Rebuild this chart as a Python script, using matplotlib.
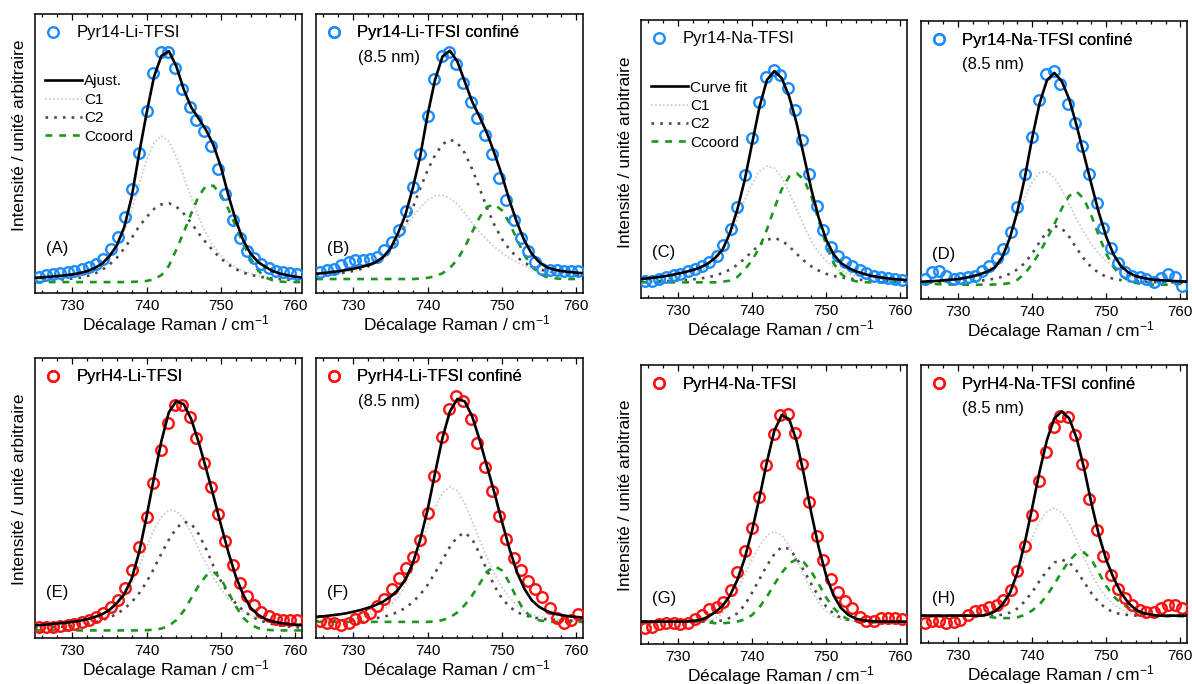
#--- DATA ----------------------------------------------------------------------------------------------
import matplotlib.pyplot as plt
from matplotlib.ticker import MultipleLocator
import numpy as np

plt.rcParams['font.family'] = ['Liberation Sans', 'DejaVu Sans']
plt.rcParams['mathtext.default'] = 'regular'

# Raman shift of the measured points (cm-1)
shift = [725.5, 726.5, 727.4, 728.4, 729.4, 730.3, 731.3, 732.3, 733.2, 734.2, 735.2, 736.1, 737.1,
         738.0, 739.0, 740.0, 740.9, 741.9, 742.9, 743.8, 744.8, 745.8, 746.7, 747.7, 748.7, 749.6,
         750.6, 751.6, 752.5, 753.5, 754.5, 755.4, 756.4, 757.4, 758.3, 759.3, 760.2]
# Raman shift of the fitted curves (cm-1), 1 cm-1 step
fit_shift = np.arange(725, 762)

# (A) Pyr14-Li-TFSI
a_data = [2.4, 2.9, 3.3, 3.9, 4.3, 4.7, 5.5, 6.5, 7.9, 10.1, 14.4, 19.4, 28.1, 40.0, 55.8, 73.7, 89.9, 99.3,
          99.3, 92.1, 83.0, 75.3, 69.8, 65.0, 58.6, 48.6, 38.1, 26.9, 19.0, 13.4, 10.4, 7.9, 6.0, 4.9, 4.3, 3.9, 3.6]
a_fit = [1.9, 2.0, 2.3, 2.6, 2.9, 3.3, 3.9, 4.7, 6.0, 7.9, 11.1, 15.8, 23.7, 36.7, 55.4, 72.7, 88.5, 97.5,
         99.5, 93.0, 83.0, 75.3, 70.5, 65.5, 59.0, 49.6, 37.4, 26.6, 18.0, 12.2, 8.6, 6.5, 4.7, 3.6, 2.9, 2.3, 2.0]
a_c1 = [1.0, 1.2, 1.4, 1.7, 2.0, 2.4, 3.0, 3.8, 5.0, 7.0, 10.0, 15.0, 22.0, 31.0, 42.0, 52.5, 60.0, 63.0,
        60.5, 54.0, 45.5, 36.5, 28.0, 21.0, 15.5, 11.5, 8.5, 6.3, 4.8, 3.7, 2.9, 2.3, 1.9, 1.6, 1.3, 1.1, 1.0]
a_c2 = [0.6, 0.7, 0.8, 1.0, 1.2, 1.5, 1.9, 2.6, 3.6, 5.2, 7.5, 10.5, 14.5, 19.0, 24.0, 28.0, 31.5, 33.5,
        34.0, 32.5, 29.5, 25.5, 21.0, 17.0, 13.3, 10.2, 7.6, 5.6, 4.1, 3.1, 2.4, 1.9, 1.5, 1.2, 1.0, 0.8, 0.7]
a_cc = [0.0, 0.0, 0.0, 0.0, 0.0, 0.0, 0.0, 0.0, 0.0, 0.0, 0.0, 0.0, 0.0, 0.1, 0.2, 0.5, 1.2, 3.0,
        7.0, 14.0, 21.5, 29.5, 37.0, 41.5, 41.5, 37.5, 31.5, 24.0, 16.5, 10.0, 5.0, 2.0, 0.7, 0.2, 0.0, 0.0, 0.0]

# (B) Pyr14-Li-TFSI confiné
b_data = [3.1, 3.8, 4.5, 6.0, 7.4, 8.2, 8.5, 8.9, 9.6, 12.5, 16.2, 21.6, 29.7, 40.2, 54.5, 71.1, 87.2, 97.4,
          99.3, 93.9, 85.4, 77.4, 70.1, 62.8, 54.4, 44.3, 34.7, 25.9, 18.1, 12.2, 7.4, 4.5, 3.8, 3.8, 3.5, 3.5, 3.4]
b_fit = [2.3, 2.6, 3.0, 3.4, 3.9, 4.5, 5.2, 6.1, 7.3, 9.5, 13.3, 19.8, 27.8, 39.5, 53.4, 71.6, 86.9, 97.1,
         99.7, 95.0, 86.2, 77.4, 70.8, 63.6, 54.8, 45.3, 34.4, 24.9, 16.9, 11.1, 7.4, 5.2, 4.1, 3.5, 3.1, 2.8, 2.5]
b_c1 = [1.5, 1.8, 2.1, 2.5, 3.1, 3.8, 4.8, 6.0, 7.5, 9.5, 12.5, 17.0, 22.3, 27.0, 31.2, 34.4, 36.3, 36.6,
        35.3, 32.6, 28.8, 24.5, 20.5, 17.0, 14.0, 11.5, 9.2, 7.3, 5.8, 4.6, 3.7, 3.0, 2.5, 2.1, 1.8, 1.5, 1.3]
b_c2 = [1.5, 1.7, 2.0, 2.4, 2.9, 3.5, 4.3, 5.5, 7.2, 9.6, 13.0, 17.6, 23.5, 31.0, 39.5, 47.5, 54.0, 58.8,
        60.9, 59.5, 55.0, 48.0, 39.5, 31.0, 23.5, 17.5, 13.0, 9.6, 7.2, 5.5, 4.3, 3.5, 2.9, 2.4, 2.0, 1.7, 1.5]
b_cc = [0.0, 0.0, 0.0, 0.0, 0.0, 0.0, 0.0, 0.0, 0.0, 0.0, 0.0, 0.0, 0.0, 0.0, 0.2, 0.5, 1.2, 2.5,
        4.8, 8.5, 14.0, 20.5, 27.0, 31.5, 32.5, 30.0, 24.5, 17.5, 10.5, 5.5, 2.4, 0.9, 0.3, 0.1, 0.0, 0.0, 0.0]

# (C) Pyr14-Na-TFSI
c_data = [0.8, 0.8, 1.6, 2.5, 3.5, 4.1, 5.2, 6.3, 7.9, 9.6, 12.3, 17.8, 25.2, 35.8, 50.5, 68.1, 85.4, 97.2,
          100.3, 98.0, 91.7, 81.4, 67.3, 51.4, 36.2, 24.8, 16.7, 12.3, 9.4, 7.5, 6.0, 4.4, 3.1, 2.5, 2.0, 1.6, 1.3]
c_fit = [1.6, 1.9, 2.3, 2.8, 3.4, 4.1, 4.9, 5.8, 7.0, 8.8, 11.5, 15.4, 23.3, 34.3, 48.4, 65.7, 83.0, 95.6,
         99.8, 96.4, 87.7, 75.2, 59.4, 43.7, 30.3, 20.1, 13.1, 9.1, 6.8, 5.2, 4.1, 3.1, 2.5, 2.0, 1.6, 1.3, 1.1]
c_c1 = [1.0, 1.2, 1.4, 1.7, 2.1, 2.6, 3.3, 4.2, 5.5, 7.5, 10.0, 14.5, 21.5, 30.0, 39.0, 46.5, 52.5, 55.0,
        54.0, 49.5, 42.5, 34.5, 26.5, 19.5, 14.0, 10.0, 7.2, 5.3, 4.0, 3.0, 2.4, 1.9, 1.6, 1.3, 1.1, 1.0, 0.9]
c_c2 = [0.3, 0.4, 0.5, 0.6, 0.7, 0.9, 1.1, 1.4, 1.8, 2.4, 3.2, 4.4, 6.0, 8.3, 11.2, 14.6, 17.8, 20.1,
        20.9, 19.8, 17.0, 13.5, 10.2, 7.5, 5.5, 4.0, 3.0, 2.3, 1.8, 1.4, 1.1, 0.9, 0.7, 0.6, 0.5, 0.4, 0.4]
c_cc = [0.0, 0.0, 0.0, 0.0, 0.0, 0.0, 0.0, 0.0, 0.0, 0.0, 0.0, 0.3, 0.8, 2.5, 6.0, 10.5, 16.5, 25.0,
        35.0, 44.0, 50.0, 51.5, 48.5, 40.5, 29.0, 17.5, 9.0, 4.0, 1.5, 0.5, 0.1, 0.0, 0.0, 0.0, 0.0, 0.0, 0.0]

# (D) Pyr14-Na-TFSI confiné
d_data = [1.9, 5.1, 5.5, 3.5, 1.9, 2.4, 2.8, 3.2, 5.5, 7.9, 11.9, 16.1, 24.2, 36.1, 51.9, 69.6, 87.3, 99.4,
          100.9, 94.9, 85.4, 76.3, 65.3, 51.9, 38.3, 26.1, 16.6, 9.5, 5.1, 3.5, 2.8, 1.9, 0.3, 2.4, 4.4, 2.8, -1.5]
d_fit = [0.6, 0.8, 1.0, 1.3, 1.6, 1.9, 2.5, 3.2, 4.2, 5.5, 7.5, 12.5, 21.5, 34.0, 50.0, 69.0, 85.5, 96.5,
         100.0, 96.0, 87.5, 75.0, 61.0, 47.0, 33.5, 22.0, 13.5, 8.0, 5.0, 3.3, 2.4, 1.8, 1.4, 1.2, 1.0, 0.8, 0.7]
d_c1 = [0.5, 0.6, 0.7, 0.9, 1.1, 1.5, 2.0, 2.8, 4.0, 6.0, 9.5, 15.0, 22.5, 31.5, 40.5, 48.0, 52.5, 53.0,
        50.0, 44.5, 37.5, 30.5, 24.0, 18.5, 14.0, 10.5, 7.5, 5.3, 3.7, 2.6, 1.9, 1.4, 1.1, 0.9, 0.7, 0.6, 0.5]
d_c2 = [0.2, 0.2, 0.3, 0.3, 0.4, 0.5, 0.6, 0.8, 1.1, 1.5, 2.1, 3.0, 4.4, 6.5, 9.5, 14.0, 19.5, 24.5,
        27.2, 26.0, 22.0, 16.5, 11.5, 7.5, 4.8, 3.0, 2.0, 1.4, 1.0, 0.8, 0.6, 0.5, 0.4, 0.3, 0.3, 0.2, 0.2]
d_cc = [0.0, -0.3, -0.5, -0.6, -0.7, -0.8, -0.8, -0.8, -0.8, -0.8, -0.7, -0.5, 0.0, 1.5, 4.5, 9.0, 14.5, 21.0,
        28.0, 35.5, 41.5, 43.5, 40.0, 32.0, 22.5, 14.0, 7.5, 3.5, 1.2, 0.0, -0.5, -0.7, -0.8, -0.8, -0.6, -0.4, -0.3]

# (E) PyrH4-Li-TFSI
e_data = [1.5, 1.5, 1.7, 2.0, 2.2, 2.6, 3.5, 4.4, 5.8, 7.6, 10.2, 13.4, 18.6, 26.2, 36.4, 49.5, 64.0, 78.6,
          90.5, 98.3, 98.3, 92.7, 83.7, 73.1, 62.3, 50.7, 38.9, 28.4, 20.7, 14.8, 10.9, 8.0, 6.1, 5.1, 4.7, 4.4, 4.4]
e_fit = [2.2, 2.4, 2.7, 3.0, 3.3, 3.7, 4.2, 4.9, 5.8, 7.0, 8.9, 11.9, 15.8, 22.5, 34.0, 49.5, 66.5, 82.5,
         95.0, 99.8, 98.5, 92.0, 82.0, 70.5, 58.5, 46.0, 34.0, 23.5, 15.5, 9.8, 6.8, 4.9, 3.9, 3.2, 2.8, 2.5, 2.4]
e_c1 = [1.2, 1.4, 1.6, 1.9, 2.2, 2.6, 3.1, 3.7, 4.5, 5.5, 7.5, 10.5, 14.5, 20.0, 27.5, 36.0, 44.0, 49.5,
        52.4, 52.0, 48.5, 42.5, 35.5, 29.0, 23.0, 18.0, 14.0, 10.8, 8.4, 6.6, 5.3, 4.3, 3.5, 2.9, 2.5, 2.1, 1.8]
e_c2 = [1.0, 1.1, 1.3, 1.5, 1.7, 2.0, 2.4, 2.9, 3.5, 4.4, 5.6, 7.2, 9.4, 12.3, 16.2, 21.0, 27.0, 33.5,
        39.5, 44.5, 47.3, 46.5, 42.0, 35.5, 28.0, 21.5, 16.0, 11.8, 8.6, 6.3, 4.6, 3.5, 2.7, 2.1, 1.7, 1.4, 1.2]
e_cc = [0.0, 0.0, 0.0, 0.0, 0.0, 0.0, 0.0, 0.0, 0.0, 0.0, 0.0, 0.0, 0.0, 0.0, 0.0, 0.1, 0.3, 0.8,
        2.0, 4.5, 8.5, 14.0, 19.5, 23.8, 25.5, 22.5, 16.5, 10.5, 5.5, 2.5, 1.0, 0.3, 0.1, 0.0, 0.0, 0.0, 0.0]

# (F) PyrH4-Li-TFSI confiné
f_data = [0.4, -0.7, -0.4, -1.5, -0.7, 1.5, 2.2, 4.0, 7.0, 10.4, 14.5, 19.4, 24.2, 29.1, 36.6, 48.8, 65.2, 82.5,
          95.2, 100.7, 98.8, 90.7, 80.1, 69.4, 58.5, 47.3, 36.9, 28.4, 23.1, 18.4, 14.8, 10.9, 6.4, 1.9, -0.4, 0.7, 3.4]
f_fit = [2.2, 2.5, 2.9, 3.3, 3.8, 4.5, 5.3, 6.3, 7.5, 9.0, 11.2, 14.2, 18.7, 26.1, 36.6, 50.0, 66.4, 82.1,
         94.0, 99.6, 98.5, 91.8, 81.3, 69.4, 57.5, 44.8, 32.8, 22.4, 14.9, 9.7, 6.7, 4.9, 3.7, 3.0, 2.5, 2.2, 1.9]
f_c1 = [0.5, 0.6, 0.8, 1.0, 1.3, 1.6, 2.1, 2.8, 3.8, 5.3, 7.5, 11.0, 16.5, 24.0, 33.0, 42.5, 51.0, 57.5,
        60.4, 58.5, 53.0, 45.0, 36.5, 28.5, 21.5, 15.5, 11.0, 7.5, 5.0, 3.4, 2.4, 1.8, 1.3, 1.0, 0.8, 0.6, 0.5]
f_c2 = [0.3, 0.3, 0.4, 0.5, 0.6, 0.7, 0.9, 1.2, 1.6, 2.2, 3.1, 4.4, 6.2, 8.8, 12.2, 16.5, 21.8, 27.5,
        33.5, 38.0, 39.9, 37.0, 30.5, 23.0, 16.0, 10.5, 6.8, 4.4, 3.0, 2.1, 1.5, 1.1, 0.9, 0.7, 0.6, 0.5, 0.4]
f_cc = [0.0, 0.0, 0.0, 0.0, 0.0, 0.0, 0.0, 0.0, 0.0, 0.0, 0.0, 0.0, 0.0, 0.0, 0.0, 0.0, 0.2, 0.8,
        2.0, 4.2, 7.5, 11.8, 17.0, 22.5, 24.9, 23.0, 17.5, 10.5, 5.0, 2.0, 0.7, 0.2, 0.0, 0.0, 0.0, 0.0, 0.0]

# (G) PyrH4-Na-TFSI
g_data = [-3.2, -2.7, -1.1, -0.5, -0.5, -1.3, -0.8, 1.1, 3.2, 5.9, 7.2, 9.6, 15.2, 24.1, 34.2, 45.3, 59.9, 75.4,
          90.2, 99.5, 100.0, 91.0, 75.9, 57.8, 41.3, 29.5, 20.6, 14.1, 10.0, 6.4, 2.4, 0.5, 0.5, 1.6, 1.6, 1.6, 1.1]
g_fit = [0.0, 0.0, 0.0, 0.0, 0.0, 0.0, 0.0, 0.3, 0.8, 2.2, 4.5, 7.5, 12.5, 20.0, 30.5, 44.0, 60.0, 77.0,
         92.0, 99.5, 97.5, 87.0, 70.5, 52.0, 35.5, 22.0, 12.5, 6.5, 3.2, 1.4, 0.6, 0.2, 0.0, 0.0, 0.0, 0.0, 0.0]
g_c1 = [0.0, 0.0, 0.0, 0.0, 0.0, 0.0, 0.0, 0.0, 0.0, 0.5, 1.5, 4.0, 8.5, 15.0, 22.5, 30.0, 36.5, 41.5,
        43.3, 41.5, 36.5, 29.5, 22.0, 15.0, 9.0, 5.0, 2.5, 1.1, 0.4, 0.1, 0.0, 0.0, 0.0, 0.0, 0.0, 0.0, 0.0]
g_c2 = [0.0, 0.0, 0.0, 0.0, 0.0, 0.0, 0.0, 0.0, 0.0, 0.0, 0.0, 0.6, 1.8, 4.0, 8.0, 14.0, 20.5, 27.0,
        32.5, 36.0, 35.0, 30.5, 24.5, 18.0, 12.0, 7.2, 3.8, 1.8, 0.8, 0.3, 0.0, 0.0, 0.0, 0.0, 0.0, 0.0, 0.0]
g_cc = [0.0, 0.0, 0.0, 0.0, 0.0, 0.0, 0.0, 0.0, 0.0, -0.3, -0.8, -0.8, -0.5, 0.0, 1.0, 3.2, 7.0, 12.0,
        18.0, 23.5, 28.0, 30.0, 28.5, 24.0, 18.0, 11.5, 6.5, 3.0, 1.0, 0.0, -0.5, -0.5, -0.3, -0.3, -0.3, -0.3, -0.3]

# (H) PyrH4-Na-TFSI confiné
h_data = [-3.6, -2.8, -2.8, -3.6, -3.3, -2.3, 0.5, 2.1, 2.6, 4.1, 5.4, 7.8, 12.7, 21.7, 33.9, 49.4, 66.2, 80.4,
          92.3, 97.9, 97.2, 88.6, 74.4, 57.1, 42.1, 29.4, 20.1, 13.1, 8.6, 5.4, 2.6, 1.6, 1.6, 3.8, 5.4, 5.1, 3.8]
h_fit = [0.0, 0.0, 0.0, 0.0, 0.0, 0.0, 0.0, 0.0, 0.0, 0.5, 2.1, 5.4, 11.1, 20.9, 35.6, 52.7, 70.6, 86.1,
         96.7, 100.0, 96.7, 87.0, 72.3, 55.1, 39.6, 27.4, 18.4, 11.1, 6.2, 2.9, 1.3, 0.5, 0.0, 0.0, 0.0, 0.0, 0.0]
h_c1 = [0.0, 0.0, 0.0, 0.0, 0.0, 0.0, 0.0, 0.0, 0.4, 1.2, 3.0, 5.0, 10.0, 17.5, 28.5, 38.0, 46.0, 51.0,
        52.7, 50.5, 45.0, 37.0, 28.5, 20.5, 14.0, 9.0, 5.5, 3.0, 1.5, 0.7, 0.3, 0.0, 0.0, 0.0, 0.0, 0.0, 0.0]
h_c2 = [0.0, 0.0, 0.0, 0.0, 0.0, 0.0, 0.0, 0.0, 0.0, 0.0, 0.0, 0.5, 1.5, 3.5, 7.0, 11.5, 17.0, 22.0,
        26.0, 27.4, 26.0, 22.0, 16.5, 11.0, 6.5, 3.5, 1.6, 0.7, 0.3, 0.0, 0.0, 0.0, 0.0, 0.0, 0.0, 0.0, 0.0]
h_cc = [0.0, 0.0, 0.0, 0.0, 0.0, 0.0, 0.0, 0.0, 0.0, -0.5, -1.0, -1.2, -1.2, -0.8, 0.3, 2.5, 5.5, 10.0,
        15.5, 21.5, 27.0, 30.5, 31.0, 27.5, 21.0, 14.5, 9.5, 6.0, 3.8, 2.2, 1.0, 0.3, 0.0, -0.3, -0.3, -0.3, -0.3]

names = ['Pyr14-Li-TFSI', 'Pyr14-Li-TFSI confiné', 'Pyr14-Na-TFSI', 'Pyr14-Na-TFSI confiné',
         'PyrH4-Li-TFSI', 'PyrH4-Li-TFSI confiné', 'PyrH4-Na-TFSI', 'PyrH4-Na-TFSI confiné']
letters = ['(A)', '(B)', '(C)', '(D)', '(E)', '(F)', '(G)', '(H)']
pore = '(8.5 nm)'
fit_labels = {0: 'Ajust.', 2: 'Curve fit'}
comp_labels = ['C1', 'C2', 'Ccoord']
#--- END OF DATA ---------------------------------------------------------------------------------------

#--- PLOT ----------------------------------------------------------------------------------------------
W, H = 1192, 684
# pixel boxes (left, top, right, bottom) of the eight panels
boxes = [(35, 14, 302, 293), (316, 14, 583, 293), (641, 20, 907, 298), (921, 21, 1187, 299),
         (35, 358, 302, 638), (316, 358, 583, 638), (641, 365, 907, 644), (921, 365, 1187, 643)]
ylims = [(-4.7, 115.5), (-6.1, 115.7), (-7.4, 123.9), (-7.6, 124.7),
         (-3.3, 118.6), (-7.2, 117.9), (-10.8, 123.6), (-13.4, 122.8)]
ylabel_y = {0: 0.567, 2: 0.526, 4: 0.532, 6: 0.534}

datasets = [(a_data, a_fit, a_c1, a_c2, a_cc), (b_data, b_fit, b_c1, b_c2, b_cc),
            (c_data, c_fit, c_c1, c_c2, c_cc), (d_data, d_fit, d_c1, d_c2, d_cc),
            (e_data, e_fit, e_c1, e_c2, e_cc), (f_data, f_fit, f_c1, f_c2, f_cc),
            (g_data, g_fit, g_c1, g_c2, g_cc), (h_data, h_fit, h_c1, h_c2, h_cc)]

fig = plt.figure(figsize=(W / 100, H / 100), dpi=100)

for i, (data, fit, c1, c2, cc) in enumerate(datasets):
    l, t, r, b = boxes[i]
    aw, ah = r - l, b - t
    ax = fig.add_axes([l / W, 1 - b / H, aw / W, ah / H])
    col = '#1a8cff' if i < 4 else '#ff1010'

    h_c1, = ax.plot(fit_shift, c1, color='#cdcdcd', lw=1.3, ls=(0, (1, 1.2)), zorder=1)
    h_c2, = ax.plot(fit_shift, c2, color='#4a4a4a', lw=1.9, ls=(0, (1, 2.3)), zorder=2)
    h_cc, = ax.plot(fit_shift, cc, color='#1c961c', lw=1.9, ls=(0, (2.6, 2.6)), zorder=2)
    h_pts, = ax.plot(shift, data, 'o', mfc='none', mec=col, ms=7.6, mew=1.7, zorder=3)
    h_fit, = ax.plot(fit_shift, fit, color='black', lw=1.9, zorder=4)

    ax.set_xlim(725, 760.9)
    ax.set_ylim(*ylims[i])
    ax.set_yticks([])
    ax.xaxis.set_major_locator(MultipleLocator(10))
    ax.xaxis.set_minor_locator(MultipleLocator(2))
    ax.tick_params(axis='x', which='both', direction='in', top=True, bottom=True, labelsize=11, pad=4)
    ax.tick_params(axis='x', which='major', length=4.5, width=0.9)
    ax.tick_params(axis='x', which='minor', length=2.2, width=0.9)
    for s in ax.spines.values():
        s.set_linewidth(1.1)

    ax.set_xlabel('Décalage Raman / cm$^{-1}$', fontsize=12.5, va='center')
    ax.xaxis.set_label_coords(0.5 + 7 / aw, -32 / ah)
    if i in ylabel_y:
        ax.set_ylabel('Intensité / unité arbitraire', fontsize=12.5, va='center')
        ax.yaxis.set_label_coords(-15 / aw, ylabel_y[i])

    # sample legend
    leg = ax.legend([h_pts], [names[i]], loc='upper left', bbox_to_anchor=(9.5 / aw, 1 - 11.5 / ah),
                    frameon=False, fontsize=12, handlelength=1.0, handletextpad=0.9,
                    borderpad=0, borderaxespad=0, numpoints=1)
    ax.add_artist(leg)
    if 'confiné' in names[i]:
        ax.text(41.5 / aw, 1 - 43.5 / ah, pore, transform=ax.transAxes, fontsize=12, va='center', ha='left')

    # components legend
    if i in fit_labels:
        ax.legend([h_fit, h_c1, h_c2, h_cc], [fit_labels[i]] + comp_labels, loc='upper left',
                  bbox_to_anchor=(10 / aw, 1 - 60.5 / ah), frameon=False, fontsize=11,
                  handlelength=2.4, handletextpad=0.17, labelspacing=0.29,
                  borderpad=0, borderaxespad=0)

    ax.text(11 / aw, 45 / ah, letters[i], transform=ax.transAxes, fontsize=12, va='center', ha='left')

fig.savefig('out.png', dpi=100)
#--- END OF PLOT ---------------------------------------------------------------------------------------
